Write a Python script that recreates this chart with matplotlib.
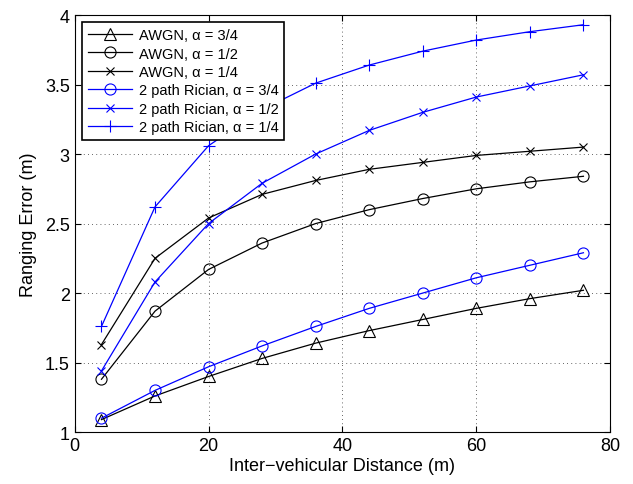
import matplotlib
matplotlib.use("Agg")
import matplotlib.pyplot as plt

plt.rcParams["font.family"] = ["Liberation Sans", "DejaVu Sans"]

# ----------------------------------------------------------------------------
# Data
# ----------------------------------------------------------------------------
distance = [4, 12, 20, 28, 36, 44, 52, 60, 68, 76]

awgn_34 = [1.09, 1.26, 1.40, 1.53, 1.64, 1.73, 1.81, 1.89, 1.96, 2.02]
awgn_12 = [1.38, 1.87, 2.17, 2.36, 2.50, 2.60, 2.68, 2.75, 2.80, 2.84]
awgn_14 = [1.63, 2.25, 2.54, 2.71, 2.81, 2.89, 2.94, 2.99, 3.02, 3.05]
rician_34 = [1.10, 1.30, 1.47, 1.62, 1.76, 1.89, 2.00, 2.11, 2.20, 2.29]
rician_12 = [1.44, 2.08, 2.50, 2.79, 3.00, 3.17, 3.30, 3.41, 3.49, 3.57]
rician_14 = [1.76, 2.62, 3.06, 3.32, 3.51, 3.64, 3.74, 3.82, 3.88, 3.93]

labels = [
    "AWGN, \u03b1 = 3/4",
    "AWGN, \u03b1 = 1/2",
    "AWGN, \u03b1 = 1/4",
    "2 path Rician, \u03b1 = 3/4",
    "2 path Rician, \u03b1 = 1/2",
    "2 path Rician, \u03b1 = 1/4",
]


def main():
    fig = plt.figure(figsize=(6.33, 4.85), dpi=100)
    ax = fig.add_axes([0.118, 0.107, 0.846, 0.860])

    # (values, colour, marker, marker size)
    series = [
        (awgn_34, "k", "^", 8),
        (awgn_12, "k", "o", 8),
        (awgn_14, "k", "x", 6),
        (rician_34, "b", "o", 8),
        (rician_12, "b", "x", 6),
        (rician_14, "b", "+", 8),
    ]
    for (vals, color, marker, ms), label in zip(series, labels):
        ax.plot(distance, vals, color=color, marker=marker, markersize=ms,
                markerfacecolor="none", markeredgewidth=0.8, linewidth=0.9,
                label=label)

    ax.set_xlim(0, 80)
    ax.set_ylim(1, 4)
    ax.set_xticks([0, 20, 40, 60, 80])
    ax.set_yticks([1, 1.5, 2, 2.5, 3, 3.5, 4])
    ax.set_yticklabels(["1", "1.5", "2", "2.5", "3", "3.5", "4"])
    ax.grid(True, color="k", linestyle=(0, (1, 4)), linewidth=0.6, alpha=0.8)
    ax.tick_params(direction="in", top=True, right=True, labelsize=13,
                   length=4, width=0.8)
    for sp in ax.spines.values():
        sp.set_linewidth(0.8)

    ax.set_xlabel("Inter\u2212vehicular Distance (m)", fontsize=13, labelpad=2)
    ax.set_ylabel("Ranging Error (m)", fontsize=13, labelpad=6)

    leg = ax.legend(loc="upper left", fontsize=10.5, handlelength=3.0,
                    borderaxespad=0.5, labelspacing=0.3, fancybox=False,
                    framealpha=1, edgecolor="k", borderpad=0.4,
                    handletextpad=0.5)
    leg.get_frame().set_linewidth(1.2)

    fig.savefig("out.png", dpi=100)
    plt.close(fig)


if __name__ == "__main__":
    main()
